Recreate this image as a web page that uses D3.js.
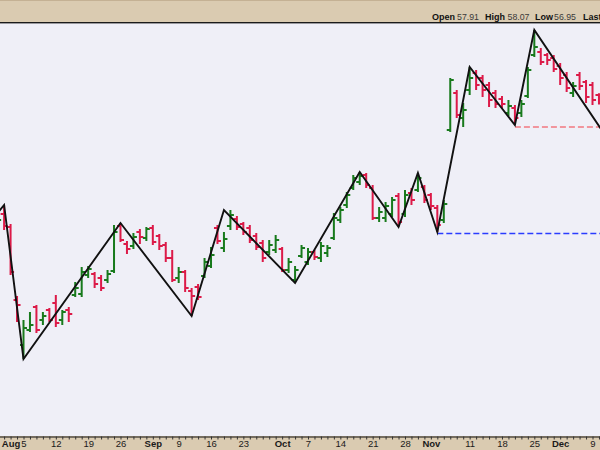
<!DOCTYPE html>
<html>
<head>
<meta charset="utf-8">
<script src="https://cdn.jsdelivr.net/npm/d3@7"></script>
<style>
  html, body { margin: 0; padding: 0; background: #ffffff; }
  svg { display: block; }
  text { font-family: Arial, "Liberation Sans", sans-serif; }
</style>
</head>
<body>
<svg id="chart" width="600" height="450"></svg>
<script>
// ---------- DATA ----------
const dates = [
  "2019-07-25","2019-07-26","2019-07-29","2019-07-30","2019-07-31","2019-08-01","2019-08-02",
  "2019-08-05","2019-08-06","2019-08-07","2019-08-08","2019-08-09",
  "2019-08-12","2019-08-13","2019-08-14","2019-08-15","2019-08-16",
  "2019-08-19","2019-08-20","2019-08-21","2019-08-22","2019-08-23",
  "2019-08-26","2019-08-27","2019-08-28","2019-08-29","2019-08-30",
  "2019-09-03","2019-09-04","2019-09-05","2019-09-06",
  "2019-09-09","2019-09-10","2019-09-11","2019-09-12","2019-09-13",
  "2019-09-16","2019-09-17","2019-09-18","2019-09-19","2019-09-20",
  "2019-09-23","2019-09-24","2019-09-25","2019-09-26","2019-09-27",
  "2019-09-30",
  "2019-10-01","2019-10-02","2019-10-03","2019-10-04",
  "2019-10-07","2019-10-08","2019-10-09","2019-10-10","2019-10-11",
  "2019-10-14","2019-10-15","2019-10-16","2019-10-17","2019-10-18",
  "2019-10-21","2019-10-22","2019-10-23","2019-10-24","2019-10-25",
  "2019-10-28","2019-10-29","2019-10-30","2019-10-31",
  "2019-11-01",
  "2019-11-04","2019-11-05","2019-11-06","2019-11-07","2019-11-08",
  "2019-11-11","2019-11-12","2019-11-13","2019-11-14","2019-11-15",
  "2019-11-18","2019-11-19","2019-11-20","2019-11-21","2019-11-22",
  "2019-11-25","2019-11-26","2019-11-27","2019-11-29",
  "2019-12-02","2019-12-03","2019-12-04","2019-12-05","2019-12-06",
  "2019-12-09","2019-12-10","2019-12-11"
];
const barDates = dates.filter(d => d >= "2019-07-30" && d <= "2019-12-10");

const open = [
  45.0,46.0,44.7,37.4,
  32.9,34.4,36.7,35.4,36.4,37.1,35.4,36.4,37.9,38.0,39.9,40.0,39.6,39.4,40.3,44.8,43.0,42.8,44.2,43.6,
  44.6,43.8,42.9,41.6,39.6,40.2,38.3,38.7,39.8,40.8,44.6,42.6,44.8,45.5,45.0,44.6,43.8,43.1,42.2,42.4,
  42.5,40.4,39.4,41.8,41.2,42.2,41.6,42.1,43.6,45.4,46.9,48.6,49.2,49.9,48.6,45.6,45.6,46.0,47.8,46.0,48.1,48.4,48.7,
  47.9,46.6,45.4,54.4,58.1,55.6,58.4,60.1,59.6,58.9,58.1,57.5,56.1,56.6,56.1,57.8,61.9,62.2,61.9,61.6,
  60.8,59.9,58.1,59.9,59.2,58.9,57.91
];
const high = [
  46.2,46.9,45.0,37.8,
  35.4,36.2,36.9,36.2,36.6,37.9,36.4,36.7,39.2,40.7,40.8,40.2,39.9,40.4,44.9,45.1,43.3,44.1,44.5,44.7,
  44.9,44.0,43.2,42.4,40.7,40.4,38.6,39.0,41.6,42.7,44.9,44.2,46.4,45.8,45.2,44.9,44.1,43.4,43.4,43.9,
  42.7,41.6,40.8,42.9,42.6,42.4,43.2,42.9,46.1,46.7,48.2,49.9,50.2,50.1,48.9,46.7,47.2,47.7,48.1,48.4,48.6,50.1,48.9,
  48.1,46.9,47.4,59.6,58.4,57.1,60.7,60.4,59.9,59.2,58.4,57.8,57.4,56.9,57.4,60.7,64.4,62.6,62.1,61.9,
  61.1,60.2,59.2,60.2,59.4,59.2,58.07
];
const low = [
  44.8,44.4,39.9,35.2,
  31.5,34.2,34.1,34.9,35.2,34.7,34.9,35.2,37.7,37.7,39.6,38.6,38.3,39.1,40.1,43.2,42.0,42.5,43.0,43.3,
  42.9,42.4,41.2,39.2,39.1,38.2,35.8,37.4,39.6,40.6,43.0,42.2,44.4,44.4,43.9,43.1,42.4,41.2,41.9,42.1,
  40.2,40.1,39.1,41.6,40.9,41.4,41.2,41.7,43.4,45.1,46.6,48.4,48.9,48.6,45.4,45.2,45.2,45.7,44.7,45.7,46.9,48.2,47.1,
  46.4,44.2,45.1,54.2,55.6,54.7,57.9,58.4,57.7,56.7,56.6,56.6,55.8,54.9,55.7,57.6,61.7,60.9,60.9,60.2,
  58.9,58.2,57.7,58.4,57.1,56.9,56.95
];
const close = [
  45.4,44.8,40.2,36.9,
  34.6,34.9,34.4,35.8,35.4,35.1,36.2,36.0,38.6,40.2,40.5,39.0,38.6,40.0,44.2,43.4,42.5,43.7,43.7,44.5,
  43.2,42.8,41.6,39.4,40.2,38.6,37.8,37.7,41.2,41.9,43.3,43.5,45.9,44.7,44.2,43.4,42.7,41.6,42.9,43.4,
  40.4,41.2,40.4,42.6,42.2,41.7,42.8,42.6,45.6,46.4,47.9,49.6,49.8,48.9,45.6,46.2,46.8,47.4,45.2,47.9,47.4,49.6,47.4,
  46.8,44.9,47.0,59.4,55.9,56.4,59.6,58.9,58.4,57.4,57.0,57.0,56.8,55.6,57.0,60.4,62.7,61.2,61.4,60.5,
  59.6,58.6,58.8,58.8,57.7,57.4,57.07
];

// ZigZag pivots
const zigDates  = ["2019-07-25","2019-07-31","2019-08-05","2019-08-26","2019-09-11","2019-09-18","2019-10-03",
                   "2019-10-17","2019-10-25","2019-10-30","2019-11-04","2019-11-11","2019-11-20","2019-11-25","2019-12-11"];
const zigValues = [43.8, 46.9, 31.5, 45.1, 35.8, 46.4, 39.1, 50.2, 44.7, 50.1, 44.2, 60.7, 54.9, 64.4, 53.85];

// Support levels (dashed)
const supportDates  = ["2019-11-04", "2019-11-20"];
const supportValues = [44.05, 54.7];

// Axis labels
const monthTickDates  = ["2019-08-01","2019-09-03","2019-10-01","2019-11-01","2019-12-02"];
const monthTickLabels = ["Aug","Sep","Oct","Nov","Dec"];
const weekTickDates   = ["2019-08-05","2019-08-12","2019-08-19","2019-08-26","2019-09-09","2019-09-16","2019-09-23",
                         "2019-10-07","2019-10-14","2019-10-21","2019-10-28","2019-11-11","2019-11-18","2019-11-25","2019-12-09"];
const weekTickLabels  = ["5","12","19","26","9","16","23","7","14","21","28","11","18","25","9"];

// Header labels (the reference is cropped after "Last")
const headerLabels = ["Open","High","Low","Last"];

// ---------- DRAW ----------
(function draw() {
const W = 600, H = 450;
const plotTop = 23, plotBottom = 436;
const svg = d3.select("#chart");

const beige = "#dacbb1";
const plotBg = "#efeff7";
const up = "#187a1c";
const down = "#dc1a48";

svg.append("rect").attr("x",0).attr("y",0).attr("width",W).attr("height",H).attr("fill",beige);
svg.append("rect").attr("x",0).attr("y",0).attr("width",W).attr("height",1).attr("fill","#c4b194");
svg.append("rect").attr("x",0).attr("y",plotTop).attr("width",W).attr("height",plotBottom-plotTop).attr("fill",plotBg);
svg.append("rect").attr("x",0).attr("y",22).attr("width",W).attr("height",1.4).attr("fill","#1a1a1a");

const x = d3.scalePoint().domain(dates).range([23.5 - 6.466*7, 23.5 + 6.466*90]);
const y = d3.scaleLinear().domain([23.8, 65.1]).range([plotBottom, plotTop]);

svg.append("defs").append("clipPath").attr("id","plotclip")
  .append("rect").attr("x",0).attr("y",plotTop+1).attr("width",W).attr("height",plotBottom-plotTop-1);

const plot = svg.append("g").attr("clip-path","url(#plotclip)");

// dashed support lines
const supColors = ["#2a3cff", "#f27880"];
supportDates.forEach((d,k) => {
  plot.append("line")
    .attr("x1", x(d)).attr("x2", W + 10)
    .attr("y1", y(supportValues[k])).attr("y2", y(supportValues[k]))
    .attr("stroke", supColors[k]).attr("stroke-width", 1.3)
    .attr("stroke-dasharray", "6,3");
});

// OHLC bars
const bars = barDates.map((d,i) => ({d, o:open[i], h:high[i], l:low[i], c:close[i]}));
plot.selectAll("path.bar").data(bars).enter().append("path")
  .attr("class","bar")
  .attr("d", b => {
    const cx = x(b.d);
    return `M${cx},${y(b.h)}V${y(b.l)}M${cx-3.5},${y(b.o)}H${cx}M${cx},${y(b.c)}H${cx+3.5}`;
  })
  .attr("fill","none")
  .attr("stroke", b => b.c >= b.o ? up : down)
  .attr("stroke-width", 2);

// zigzag
const zig = zigDates.map((d,i) => ({d, v: zigValues[i]}));
plot.append("path")
  .datum(zig)
  .attr("d", d3.line().x(p => x(p.d)).y(p => y(p.v)))
  .attr("fill","none").attr("stroke","#111").attr("stroke-width",1.9)
  .attr("stroke-linejoin","miter");

// bottom axis
const labelMap = new Map();
monthTickDates.forEach((d,i) => labelMap.set(d, {t: monthTickLabels[i], bold: true}));
weekTickDates.forEach((d,i) => labelMap.set(d, {t: weekTickLabels[i], bold: false}));

const axis = d3.axisBottom(x)
  .tickValues(barDates)
  .tickSizeInner(3).tickSizeOuter(0).tickPadding(4)
  .tickFormat(d => labelMap.has(d) ? labelMap.get(d).t : "");
const ag = svg.append("g").attr("transform", `translate(0,${plotBottom + 0.5})`).call(axis);
ag.select(".domain").attr("stroke","#111").attr("stroke-width",1.2);
ag.selectAll(".tick line").attr("stroke","#333").attr("stroke-width",1);
ag.selectAll(".tick text")
  .attr("font-size", 9.5)
  .attr("fill","#1a1a1a")
  .attr("y", 4)
  .attr("font-weight", d => (labelMap.has(d) && labelMap.get(d).bold) ? "bold" : "normal");

// header
const last = barDates.length - 1;
const fmt = d3.format(".2f");
const header = [
  {t:headerLabels[0], bold:true, x:432}, {t:fmt(open[last]), bold:false, x:457},
  {t:headerLabels[1], bold:true, x:485}, {t:fmt(high[last]), bold:false, x:507.5},
  {t:headerLabels[2], bold:true, x:535}, {t:fmt(low[last]), bold:false, x:554},
  {t:headerLabels[3], bold:true, x:583}
];
svg.selectAll("text.hdr").data(header).enter().append("text")
  .attr("class","hdr")
  .attr("x", h => h.x).attr("y", 20)
  .attr("font-size", h => h.bold ? 9 : 8.8)
  .attr("font-weight", h => h.bold ? "bold" : "normal")
  .attr("fill", h => h.bold ? "#111" : "#3a3a3a")
  .text(h => h.t);
})();
</script>
</body>
</html>
